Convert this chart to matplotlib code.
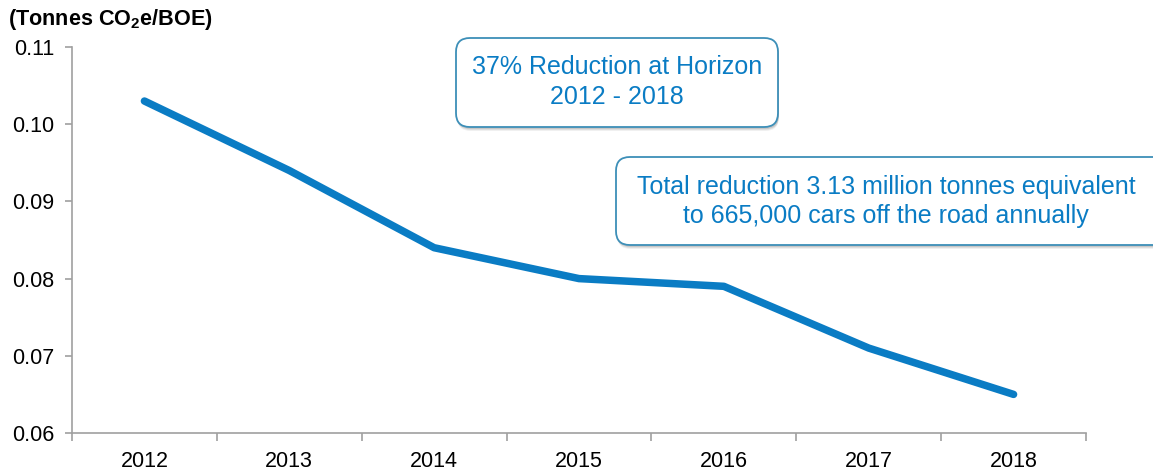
import matplotlib.pyplot as plt
from matplotlib.patches import FancyBboxPatch

plt.rcParams['font.family'] = ['Liberation Sans', 'DejaVu Sans']
plt.rcParams['mathtext.fontset'] = 'custom'
plt.rcParams['mathtext.rm'] = 'Liberation Sans'
plt.rcParams['mathtext.bf'] = 'Liberation Sans:bold'

years = ['2012', '2013', '2014', '2015', '2016', '2017', '2018']
intensity = [0.103, 0.094, 0.084, 0.080, 0.079, 0.071, 0.065]
y_ticks = [0.06, 0.07, 0.08, 0.09, 0.10, 0.11]

W, H = 1153, 470
fig = plt.figure(figsize=(W / 100, H / 100), dpi=100)
ax = fig.add_axes([72 / W, 1 - 433 / H, (1086 - 72) / W, (433 - 47) / H])

x = list(range(len(years)))
ax.plot(x, intensity, color='#0a7cc4', lw=5.4, solid_capstyle='round', solid_joinstyle='round')

ax.set_xlim(-0.5, len(years) - 0.5)
ax.set_ylim(0.06, 0.11)
ax.set_yticks(y_ticks)
ax.set_yticklabels([f'{v:.2f}' for v in y_ticks])
ax.set_xticks(x)
ax.set_xticklabels(years)
ax.set_xticks([i - 0.5 for i in range(len(years) + 1)], minor=True)
ax.tick_params(axis='x', which='major', length=0, pad=13, labelsize=15.5)
ax.tick_params(axis='x', which='minor', length=6, color='#a0a0a0', width=1.2)
ax.tick_params(axis='y', length=5, color='#a0a0a0', width=1.2, labelsize=15.5, pad=8)
for s in ['top', 'right']:
    ax.spines[s].set_visible(False)
for s in ['left', 'bottom']:
    ax.spines[s].set_color('#a0a0a0')
    ax.spines[s].set_linewidth(1.2)

fig.text(8 / W, 1 - 20 / H, r'(Tonnes CO$_\mathbf{2}$e/BOE)', fontsize=15.6, fontweight='bold',
         va='center', ha='left')


def callout(x0, y0, x1, y1):
    # pixel box coords (top-left origin) -> figure fraction
    fx0, fx1 = x0 / W, x1 / W
    fy0, fy1 = 1 - y1 / H, 1 - y0 / H
    for k, a in [(4, 0.10), (3, 0.14), (2, 0.2)]:
        sh = FancyBboxPatch((fx0 + 1 / W, fy0 - k / H), fx1 - fx0, fy1 - fy0,
                            boxstyle='round,pad=0,rounding_size=0.012', transform=fig.transFigure,
                            fc='#707070', ec='none', alpha=a, mutation_aspect=W / H)
        fig.patches.append(sh)
    box = FancyBboxPatch((fx0, fy0), fx1 - fx0, fy1 - fy0,
                         boxstyle='round,pad=0,rounding_size=0.012', transform=fig.transFigure,
                         fc='white', ec='#3d8fb8', lw=1.3, mutation_aspect=W / H)
    fig.patches.append(box)


callout(456, 38, 778, 127)
fig.text(617 / W, 1 - 67 / H, '37% Reduction at Horizon', color='#0a7cc4', fontsize=18,
         ha='center', va='center')
fig.text(617 / W, 1 - 97 / H, '2012 - 2018', color='#0a7cc4', fontsize=18,
         ha='center', va='center')

callout(616, 157, 1170, 245)
fig.text(886 / W, 1 - 187 / H, 'Total reduction 3.13 million tonnes equivalent', color='#0a7cc4',
         fontsize=18, ha='center', va='center')
fig.text(886 / W, 1 - 216 / H, 'to 665,000 cars off the road annually', color='#0a7cc4',
         fontsize=18, ha='center', va='center')

fig.savefig('out.png', dpi=100)
